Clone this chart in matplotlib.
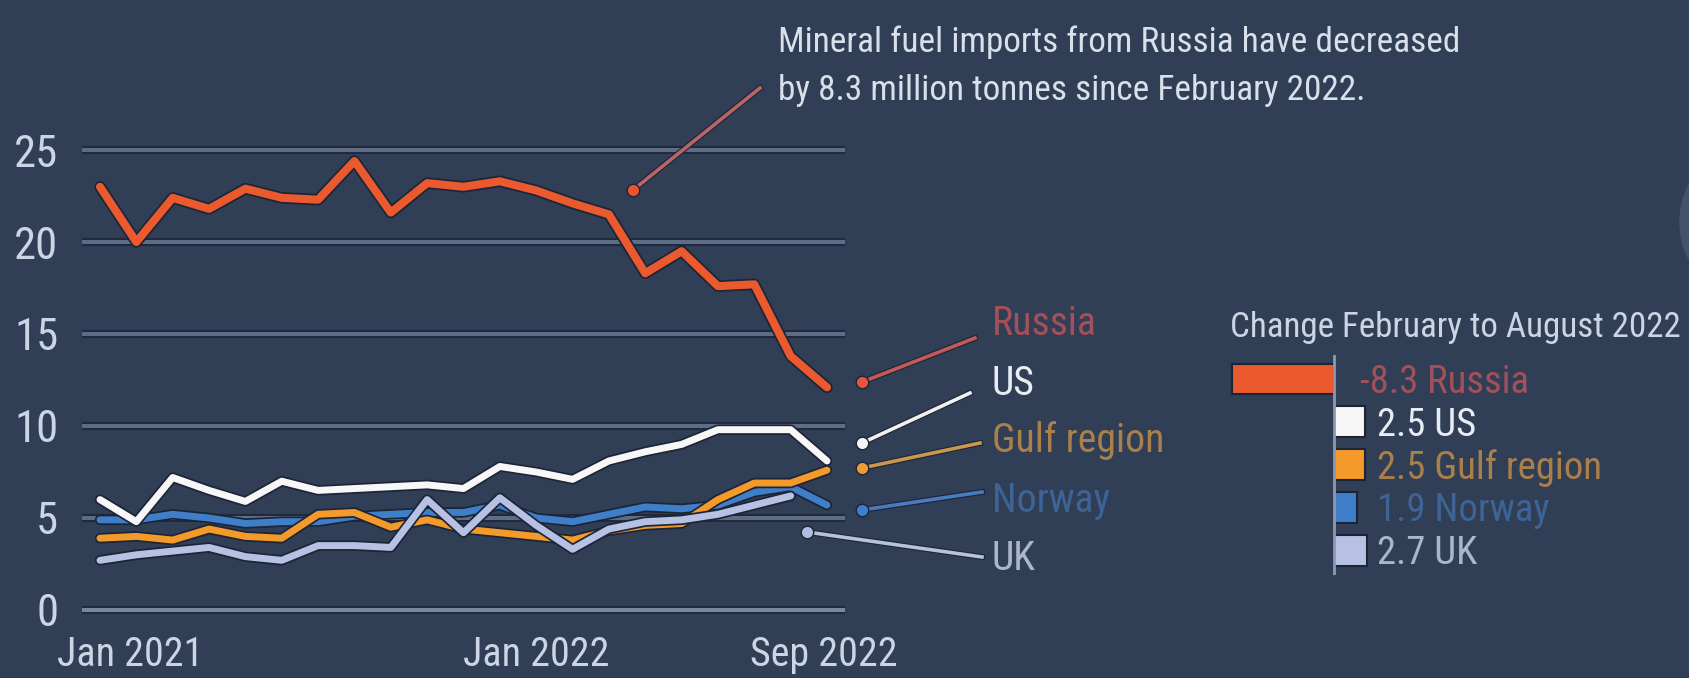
import numpy as np
import matplotlib.pyplot as plt
import matplotlib.patheffects as pe
from matplotlib import font_manager as fm
from matplotlib.patches import Ellipse


def pick_narrow_font():
    # look for a condensed / narrow sans face among the installed fonts
    prefer = ['Liberation Sans Narrow', 'Roboto Condensed', 'Open Sans Condensed',
              'Noto Sans Condensed', 'Open Sans', 'Noto Sans', 'Roboto', 'DejaVu Sans']
    found = []
    for f in fm.fontManager.ttflist:
        narrow = ('Narrow' in f.name or 'Condensed' in f.name
                  or str(f.stretch) in ('condensed', 'semi-condensed', 'extra-condensed', '75', '87'))
        if narrow and f.style == 'normal' and f.weight in (400, 'normal', 'regular'):
            found.append(f)
    found.sort(key=lambda f: next((i for i, p in enumerate(prefer) if f.name.startswith(p)), 99))
    if found:
        return found[0].name, found[0].stretch
    return 'DejaVu Sans', 'normal'


FONT, STRETCH = pick_narrow_font()
plt.rcParams['font.family'] = [FONT, 'DejaVu Sans']
plt.rcParams['font.stretch'] = STRETCH

# monthly mineral fuel imports (million tonnes), Jan 2021 .. Sep 2022
months = np.arange(21)
russia = [23.0, 20.0, 22.4, 21.8, 22.9, 22.4, 22.3, 24.4, 21.6, 23.2, 23.0,
          23.3, 22.8, 22.1, 21.5, 18.3, 19.5, 17.6, 17.7, 13.8, 12.1]
us = [6.0, 4.8, 7.2, 6.5, 5.9, 7.0, 6.5, 6.6, 6.7, 6.8, 6.6,
      7.8, 7.5, 7.1, 8.1, 8.6, 9.0, 9.8, 9.8, 9.8, 8.1]
gulf = [3.9, 4.0, 3.8, 4.4, 4.0, 3.9, 5.2, 5.3, 4.5, 4.9, 4.4,
        4.2, 4.0, 3.8, 4.3, 4.6, 4.7, 6.0, 6.9, 6.9, 7.6]
norway = [4.9, 4.9, 5.2, 5.0, 4.7, 4.8, 4.8, 5.1, 5.2, 5.3, 5.3,
          5.7, 5.0, 4.8, 5.2, 5.6, 5.5, 5.7, 6.4, 6.7, 5.7]
uk = [2.7, 3.0, 3.2, 3.4, 2.9, 2.7, 3.5, 3.5, 3.4, 6.0, 4.2,
      6.1, 4.6, 3.3, 4.4, 4.8, 4.9, 5.2, 5.7, 6.2, np.nan]

names = ['Russia', 'US', 'Gulf region', 'Norway', 'UK']
change = [-8.3, 2.5, 2.5, 1.9, 2.7]   # Feb -> Aug 2022

x_ticks = [0, 12, 20]
x_labels = ['Jan 2021', 'Jan 2022', 'Sep 2022']
y_ticks = [0, 5, 10, 15, 20, 25]

note = ['Mineral fuel imports from Russia have decreased',
        'by 8.3 million tonnes since February 2022.']
bar_title = 'Change February to August 2022'

BG = '#303e56'
GRID = '#5d6d87'
TXT = '#ccd5e3'
DARK = '#1c2536'
line_col = ['#ea5a2e', '#f7f7f7', '#f39a2b', '#3f7ec8', '#b6c1e4']
text_col = ['#a3505a', '#e8edf4', '#a97f4b', '#3e6496', '#aab6cd']
ptr_col = ['#c25a5a', '#f0f0f0', '#c9974f', '#4b7bbf', '#b8c3da']
dot_col = ['#e8553a', '#f5f5f5', '#ee9a35', '#3f7ed0', '#b0bde0']

W, H = 1689, 678
fig = plt.figure(figsize=(W / 100, H / 100), dpi=100, facecolor=BG)
renderer = fig.canvas.get_renderer()


def fit_size(s, width_px, cap=40):
    # font size that makes string s about width_px wide
    t = fig.text(0, 0, s, fontsize=20)
    w = t.get_window_extent(renderer).width
    t.remove()
    return min(cap, 20 * width_px / w)


fs_ytick = fit_size('25', 44, cap=34)
fs_xtick = fit_size('Jan 2021', 146, cap=34)
fs_note = fit_size(note[0], 680, cap=27)
fs_title = fit_size(bar_title, 450, cap=34)
fs_name = fit_size('Gulf region', 172, cap=32)
fs_bar = fit_size('2.5 Gulf region', 225, cap=31)


def px_box(x0, y0, x1, y1):
    # pixel rectangle (origin top-left) -> figure fraction
    return [x0 / W, 1 - y1 / H, (x1 - x0) / W, (y1 - y0) / H]


# ---- main line chart ----
ax = fig.add_axes(px_box(82, 113.2, 845, 628.4))
ax.set_facecolor(BG)
ax.set_xlim(-0.495, 20.495)
ax.set_ylim(-1, 27)
for s in ax.spines.values():
    s.set_visible(False)

for v in y_ticks:
    ax.axhline(v, color=GRID if v else '#7787a0', lw=3, zorder=1,
               path_effects=[pe.Stroke(linewidth=5.5, foreground=DARK), pe.Normal()])

ax.set_yticks(y_ticks)
ax.set_yticklabels([str(v) for v in y_ticks])
ax.tick_params(axis='y', length=0, pad=17, labelsize=fs_ytick, labelcolor=TXT)
ax.set_xticks([])

series = [russia, us, gulf, norway, uk]
order = [3, 2, 4, 1, 0]
for z, i in enumerate(order):
    lw = 5.8 if i == 0 else 5.0
    ax.plot(months, series[i], color=line_col[i], lw=lw, zorder=3 + z,
            solid_joinstyle='round', solid_capstyle='round',
            path_effects=[pe.Stroke(linewidth=lw + 2.5, foreground=DARK), pe.Normal()])

for pos, lab, dx in zip(x_ticks, x_labels, [22, 0, -2]):
    ax.annotate(lab, xy=(pos, 0), xytext=(dx, -32), textcoords='offset points',
                ha='center', va='center', fontsize=fs_xtick, color=TXT,
                annotation_clip=False)

# ---- overlay in pixel coordinates for callouts ----
ov = fig.add_axes([0, 0, 1, 1], zorder=10)
ov.set_xlim(0, W)
ov.set_ylim(H, 0)
ov.axis('off')
ov.patch.set_alpha(0)

label_px = [(992, 335), (992, 395), (992, 452), (992, 512), (992, 570)]
dot_px = [(862, 382), (862, 443), (862, 468), (862, 510), (807, 532)]
end_px = [(975, 338), (970, 393), (980, 443), (982, 492), (982, 557)]
for i, name in enumerate(names):
    (dx, dy), (ex, ey), (lx, ly) = dot_px[i], end_px[i], label_px[i]
    ov.plot([dx, ex], [dy, ey], color=ptr_col[i], lw=2.6,
            path_effects=[pe.Stroke(linewidth=4.2, foreground=DARK), pe.Normal()])
    ov.plot(dx, dy, 'o', ms=9, color=dot_col[i], mec=DARK, mew=1)
    ov.text(lx, ly, name, fontsize=fs_name, color=text_col[i], ha='left', va='baseline')

# note on Russia
ov.plot([633, 760], [190, 88], color='#b8656a', lw=2.6,
        path_effects=[pe.Stroke(linewidth=4.2, foreground=DARK), pe.Normal()])
ov.plot(633, 190, 'o', ms=9, color='#e8562e', mec=DARK, mew=1)
ov.text(778, 52, note[0], fontsize=fs_note, color='#d9e0ea', ha='left', va='baseline')
ov.text(778, 100, note[1], fontsize=fs_note, color='#d9e0ea', ha='left', va='baseline')

ov.text(1230, 337, bar_title, fontsize=fs_title, color=TXT, ha='left', va='baseline')

ov.add_patch(Ellipse((1708, 222), 56, 100, color='#44536b', zorder=0))

# ---- change bars ----
bx = fig.add_axes(px_box(1200, 355, 1680, 575))
bx.set_xlim((1200 - 1334) / 12.3, (1680 - 1334) / 12.3)
bx.set_ylim(4.58, -0.56)
bx.axis('off')
ypos = np.arange(len(names))
bx.barh(ypos, change, height=0.72, color=line_col, edgecolor=DARK, lw=1.5, zorder=2)
bx.axvline(0, color='#8d9ab0', lw=2, zorder=3)
for y, v, name, c in zip(ypos, change, names, text_col):
    bx.text(3.5 if v > 0 else 2.1, y + 0.33, f'{v:g} {name}', fontsize=fs_bar,
            color=c, ha='left', va='baseline')

fig.savefig('out.png', dpi=100, facecolor=BG)
